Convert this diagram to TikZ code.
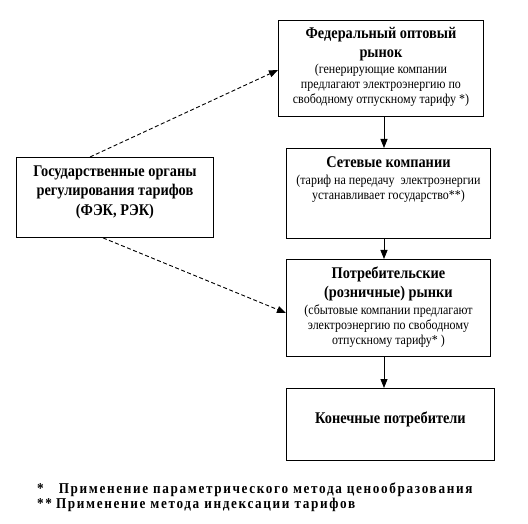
\documentclass[tikz,border=0pt]{standalone}
\usepackage{fontspec}
\setmainfont{Liberation Serif}
\newfontfamily\cond[FakeStretch=0.88]{Liberation Serif}
\newfontfamily\spaced[FakeStretch=0.88,LetterSpace=11]{Liberation Serif}
\usetikzlibrary{arrows.meta}
\begin{document}
\begin{tikzpicture}[x=1pt,y=-1pt,
  box/.style={draw,line width=0.9pt,inner sep=0pt,anchor=north west},
  ttl/.style={font=\cond\fontsize{16.3}{19.3}\selectfont\bfseries,align=center,inner sep=0pt,anchor=base},
  sub/.style={font=\cond\fontsize{13.6}{15}\selectfont,align=center,inner sep=0pt,anchor=base},
  arr/.style={line width=0.9pt,-{Triangle[length=9pt,width=7pt]}},
  darr/.style={line width=0.9pt,dash pattern=on 4pt off 2.5pt,-{Triangle[length=9pt,width=7pt]}}]
\useasboundingbox (0,0) rectangle (528,524);
% boxes
\node[box,minimum width=205pt,minimum height=96pt] (fed) at (278,20) {};
\node[box,minimum width=204pt,minimum height=90pt] (net) at (286,148) {};
\node[box,minimum width=204pt,minimum height=97pt] (ret) at (286,259) {};
\node[box,minimum width=208pt,minimum height=72pt] (fin) at (286,388) {};
\node[box,minimum width=197pt,minimum height=80pt] (gov) at (16,157) {};
% texts (base anchor = baseline of last line)
\node[ttl] (fedt) at (fed.north |- 0,58) {Федеральный оптовый\\рынок};
\node[sub] (feds) at (fed.north |- 0,104) {(генерирующие компании\\предлагают электроэнергию по\\свободному отпускному тарифу *)};
\node[ttl] (nett) at (net.north |- 0,168) {Сетевые компании};
\node[sub] (nets) at (net.north |- 0,200) {(тариф на передачу\ \ электроэнергии\\устанавливает государство**)};
\node[ttl] (rett) at (ret.north |- 0,298) {Потребительские\\(розничные) рынки};
\node[sub] (rets) at (ret.north |- 0,344) {(сбытовые компании предлагают\\электроэнергию по свободному\\отпускному тарифу* )};
\node[ttl] (fint) at (fin.north |- 0,423) {Конечные потребители};
\node[ttl] (govt) at (gov.north |- 0,215) {Государственные органы\\регулирования тарифов\\(ФЭК, РЭК)};
% arrows
\draw[arr] (fed.south -| 384,0) -- (net.north -| 384,0);
\draw[arr] (net.south -| 384,0) -- (ret.north -| 384,0);
\draw[arr] (ret.south -| 384,0) -- (fin.north -| 384,0);
\draw[darr] (gov.north -| 90,0) -- (fed.west |- 0,70);
\draw[darr] (gov.south -| 103,0) -- (ret.west |- 0,313);
% footnotes
\node[anchor=base west,inner sep=0pt,font=\spaced\fontsize{15}{15}\selectfont\bfseries] (fn1) at (37,493) {*\hspace{15pt}Применение параметрического метода ценообразования};
\node[anchor=base west,inner sep=0pt,font=\spaced\fontsize{15}{15}\selectfont\bfseries] (fn2) at (37,508) {**\hspace{4pt}Применение метода индексации тарифов};
\end{tikzpicture}
\end{document}
